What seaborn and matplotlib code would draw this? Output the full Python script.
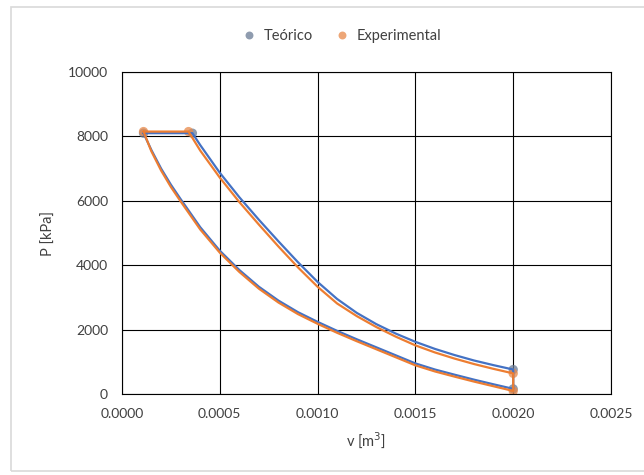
import numpy as np
import pandas as pd
import seaborn as sns
import matplotlib.pyplot as plt
from matplotlib.patches import Rectangle

# Ciclo P-v: teórico vs experimental.

# Teórico: expansión (arriba-der -> abajo-der)
teo_exp_v = [0.00036, 0.0004, 0.0005, 0.0006, 0.0007, 0.0008, 0.0009, 0.001, 0.0011, 0.0012,
             0.0013, 0.0014, 0.0015, 0.0016, 0.0017, 0.0018, 0.0019, 0.002]
teo_exp_p = [8100, 7730, 6870, 6110, 5410, 4740, 4090, 3480, 2950, 2520,
             2170, 1875, 1620, 1400, 1210, 1040, 895, 760]
# Teórico: compresión (arriba-izq -> abajo-der, en v creciente)
teo_comp_v = [0.00011, 0.00015, 0.0002, 0.00025, 0.0003, 0.0004, 0.0005, 0.0006, 0.0007, 0.0008, 0.0009,
              0.001, 0.0011, 0.0012, 0.0013, 0.0014, 0.0015, 0.0016, 0.0017, 0.0018, 0.0019, 0.002]
teo_comp_p = [8100, 7580, 7000, 6500, 6050, 5180, 4450, 3850, 3330, 2900, 2540,
              2240, 1960, 1700, 1450, 1200, 950, 760, 600, 445, 300, 160]

# Experimental
exp_exp_v = [0.00034, 0.0004, 0.0005, 0.0006, 0.0007, 0.0008, 0.0009, 0.001, 0.0011, 0.0012,
             0.0013, 0.0014, 0.0015, 0.0016, 0.0017, 0.0018, 0.0019, 0.002]
exp_exp_p = [8150, 7560, 6720, 5960, 5260, 4580, 3930, 3330, 2810, 2420,
             2080, 1780, 1510, 1290, 1100, 930, 780, 640]
exp_comp_v = [0.00011, 0.00015, 0.0002, 0.00025, 0.0003, 0.0004, 0.0005, 0.0006, 0.0007, 0.0008, 0.0009,
              0.001, 0.0011, 0.0012, 0.0013, 0.0014, 0.0015, 0.0016, 0.0017, 0.0018, 0.0019, 0.002]
exp_comp_p = [8150, 7540, 6940, 6430, 5980, 5110, 4390, 3790, 3270, 2840, 2480,
              2180, 1900, 1640, 1390, 1140, 890, 700, 540, 385, 240, 95]

# Vértices del ciclo (con marcador)
teo_corner_v = [0.00011, 0.00036, 0.002, 0.002]
teo_corner_p = [8100, 8100, 760, 160]
exp_corner_v = [0.00011, 0.00034, 0.002, 0.002]
exp_corner_p = [8150, 8150, 640, 95]


def cycle(name, ev, ep, cv, cp):
    # arriba-izq -> expansión -> abajo-der -> compresión de vuelta
    v = [cv[0]] + ev + cv[::-1]
    p = [cp[0]] + ep + cp[::-1]
    return pd.DataFrame({'v': v, 'P': p, 'serie': name})


df = pd.concat([cycle('Teórico', teo_exp_v, teo_exp_p, teo_comp_v, teo_comp_p),
                cycle('Experimental', exp_exp_v, exp_exp_p, exp_comp_v, exp_comp_p)],
               ignore_index=True)
corners = pd.concat([pd.DataFrame({'v': teo_corner_v, 'P': teo_corner_p, 'serie': 'Teórico'}),
                     pd.DataFrame({'v': exp_corner_v, 'P': exp_corner_p, 'serie': 'Experimental'})],
                    ignore_index=True)

sns.set_style('white')
plt.rcParams['font.family'] = ['Lato', 'DejaVu Sans']

fig = plt.figure(figsize=(6.44, 4.75), dpi=100)
ax = fig.add_axes([122/644, 1-394/475, 489/644, 322/475])

# marco exterior gris claro
fig.patches.append(Rectangle((11/644, 4/475), 1.0, 1-11/475, transform=fig.transFigure,
                             fill=False, edgecolor='#D9D9D9', lw=1.2))

line_pal = {'Teórico': '#4472C4', 'Experimental': '#ED7D31'}
mark_pal = {'Teórico': '#6A7B94', 'Experimental': '#E8894A'}

sns.lineplot(data=df, x='v', y='P', hue='serie', palette=line_pal, sort=False,
             estimator=None, lw=1.6, legend=False, ax=ax)
sns.scatterplot(data=corners, x='v', y='P', hue='serie', palette=mark_pal, s=45,
                alpha=0.75, edgecolor='none', ax=ax, zorder=1)

ax.set_xlim(0, 0.0025)
ax.set_ylim(0, 10000)
ax.set_xticks(np.arange(0, 0.00251, 0.0005))
ax.set_yticks(np.arange(0, 10001, 2000))
ax.set_xticklabels([f'{t:.4f}' for t in ax.get_xticks()])
ax.grid(True, color='black', lw=0.8)
for s in ax.spines.values():
    s.set_color('black')
    s.set_linewidth(0.8)
ax.tick_params(axis='x', length=0, labelsize=10, colors='#404040', pad=10)
ax.tick_params(axis='y', length=0, labelsize=10, colors='#404040', pad=10)
ax.set_xlabel('v [m$^3$]', fontsize=10.5, color='#404040', labelpad=7)
ax.set_ylabel('P [kPa]', fontsize=10.5, color='#404040', labelpad=9)

h, l = ax.get_legend_handles_labels()
ax.legend(h, l, loc='center', bbox_to_anchor=(338/644, 1-36/475), bbox_transform=fig.transFigure,
          ncol=2, frameon=False, fontsize=10.5, handletextpad=0.0, columnspacing=1.0,
          markerscale=0.85, labelcolor='#404040')

fig.savefig('out.png', dpi=100)
